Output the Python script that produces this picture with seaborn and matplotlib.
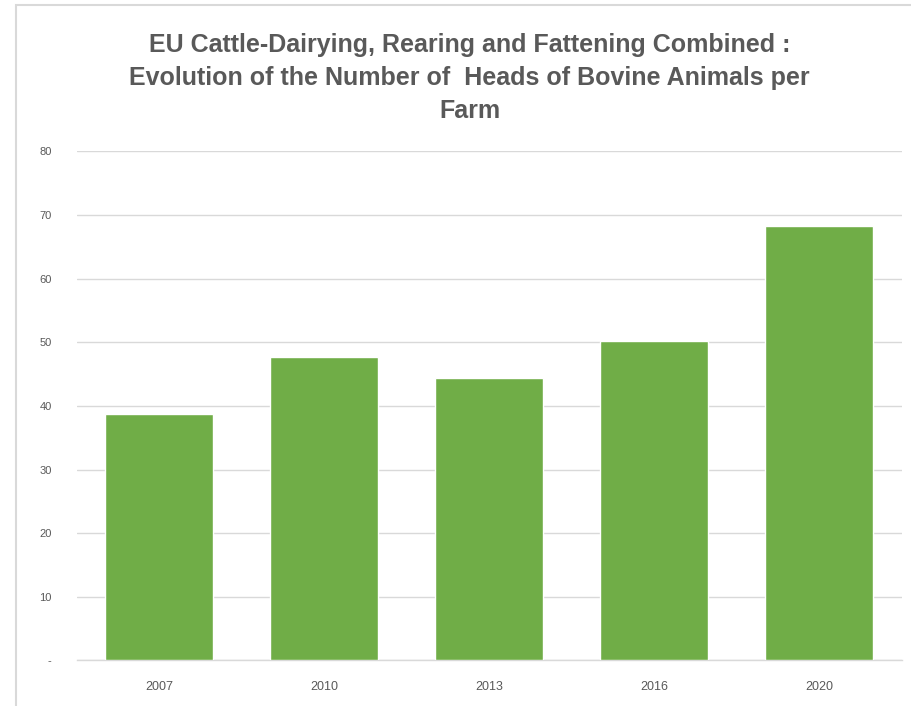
import matplotlib
matplotlib.use("Agg")
import matplotlib.pyplot as plt
import seaborn as sns
import pandas as pd
from matplotlib.patches import Rectangle

years = ["2007", "2010", "2013", "2016", "2020"]
heads_per_farm = [38.7, 47.7, 44.4, 50.2, 68.2]
y_ticks = [0, 10, 20, 30, 40, 50, 60, 70, 80]
y_tick_labels = ["-", "10", "20", "30", "40", "50", "60", "70", "80"]
title = ("EU Cattle-Dairying, Rearing and Fattening Combined :\n"
         "Evolution of the Number of  Heads of Bovine Animals per\n"
         "Farm")

sns.set_theme(style="white")
plt.rcParams['font.family'] = ['Liberation Sans', 'DejaVu Sans']

df = pd.DataFrame({"year": years, "value": heads_per_farm})

fig = plt.figure(figsize=(9.12, 7.06), dpi=100)
ax = fig.add_axes([0.0839, 0.0646, 0.9046, 0.721])
sns.barplot(data=df, x="year", y="value", color="#70AD47", width=0.655,
            saturation=1, ax=ax, zorder=3)

ax.set_xlim(-0.5, 4.5)
ax.set_ylim(0, 80)
ax.set_yticks(y_ticks)
ax.set_yticklabels(y_tick_labels)
ax.yaxis.grid(True, color="#d9d9d9", linewidth=1.0, zorder=0)
ax.set_axisbelow(True)
for s in ["top", "right", "left"]:
    ax.spines[s].set_visible(False)
ax.spines["bottom"].set_color("#d9d9d9")
ax.spines["bottom"].set_linewidth(1.0)
ax.tick_params(axis="both", length=0, colors="#595959")
ax.tick_params(axis="y", labelsize=8, pad=18)
ax.tick_params(axis="x", labelsize=9, pad=15)
ax.set_xlabel("")
ax.set_ylabel("")

fig.text(0.515, 0.8895, title, ha="center", va="center", fontsize=18,
         fontweight="bold", color="#595959", linespacing=1.45)

fig.patches.append(Rectangle((16/912, -0.1), 1.2, 1.1 - 5/706, transform=fig.transFigure,
                             fill=False, edgecolor="#d9d9d9", linewidth=1.5))

fig.savefig("out.png", dpi=100)
